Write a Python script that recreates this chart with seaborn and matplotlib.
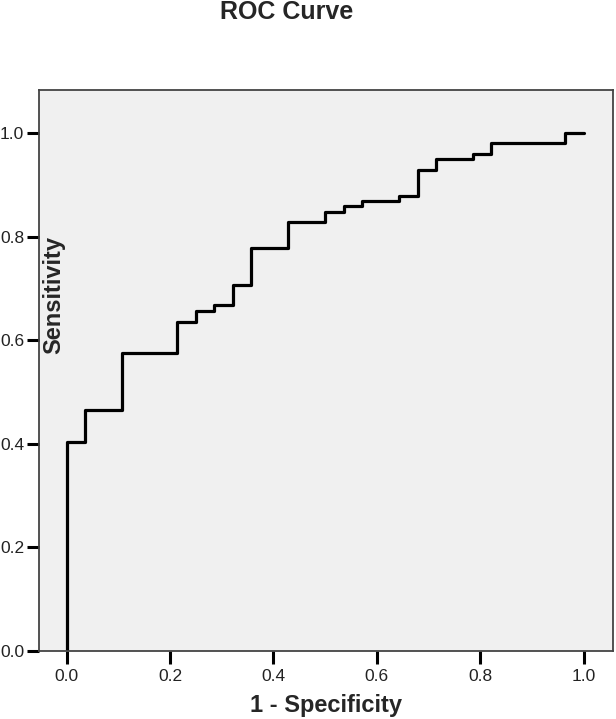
import matplotlib
matplotlib.use('Agg')
import matplotlib.pyplot as plt
import seaborn as sns
import pandas as pd

# ROC curve corner points (1 - specificity, sensitivity)
fpr = [0.0, 0.0, 0.036, 0.107, 0.214, 0.250, 0.286, 0.321, 0.357, 0.429,
       0.500, 0.536, 0.571, 0.643, 0.679, 0.714, 0.786, 0.821, 0.964, 1.0]
tpr = [0.0, 0.404, 0.465, 0.576, 0.636, 0.657, 0.667, 0.707, 0.778, 0.828,
       0.848, 0.859, 0.869, 0.879, 0.929, 0.949, 0.960, 0.980, 1.0, 1.0]
ticks = [0.0, 0.2, 0.4, 0.6, 0.8, 1.0]
tick_labels = ['0.0', '0.2', '0.4', '0.6', '0.8', '1.0']

df = pd.DataFrame({'fpr': fpr, 'tpr': tpr})

sns.set_style('white')
plt.rcParams['font.family'] = ['Liberation Sans', 'DejaVu Sans']

fig = plt.figure(figsize=(6.16, 7.19), dpi=100)
ax = fig.add_axes([38.7 / 616, 1 - 651 / 719, (613 - 38.7) / 616, (651 - 90) / 719])
ax.set_facecolor('#f0f0f0')

sns.lineplot(data=df, x='fpr', y='tpr', ax=ax, estimator=None, sort=False,
             drawstyle='steps-post', color='black', linewidth=2.3)

ax.set_xlim(-0.054, 1.057)
ax.set_ylim(0, 1.083)
ax.set_xticks(ticks)
ax.set_xticklabels(tick_labels)
ax.set_yticks(ticks)
ax.set_yticklabels(tick_labels)
ax.tick_params(axis='both', bottom=True, left=True, direction='out', length=9,
               width=2.2, color='black', labelsize=12.5, labelcolor='#222222')
ax.tick_params(axis='x', pad=4)
ax.tick_params(axis='y', pad=1.5)

for s in ax.spines.values():
    s.set_color('#444444')
    s.set_linewidth(1.3)

ax.set_xlabel('1 - Specificity', fontsize=17, fontweight='bold')
ax.xaxis.set_label_coords(0.5, -0.076)
ax.set_ylabel('Sensitivity', fontsize=17, fontweight='bold')
ax.yaxis.set_label_coords(0.046, 0.635)

fig.text(287 / 616, 1 - 12 / 719, 'ROC Curve', fontsize=18, fontweight='bold',
         ha='center', va='center')

fig.savefig('out.png', dpi=100)
